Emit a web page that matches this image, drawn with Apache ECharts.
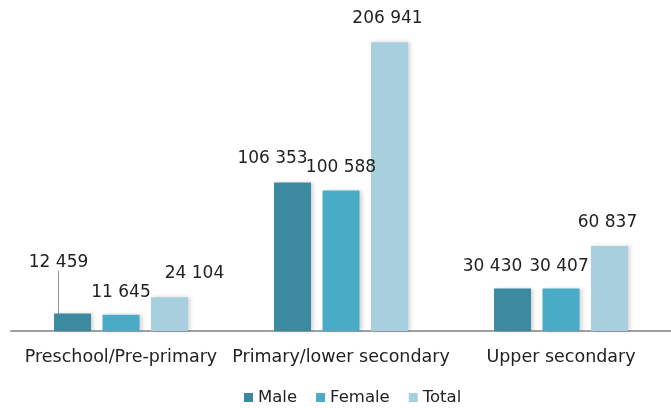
<!DOCTYPE html>
<html>
<head>
<meta charset="utf-8">
<script src="https://cdn.jsdelivr.net/npm/echarts@6/dist/echarts.min.js"></script>
<style>
  html, body { margin: 0; padding: 0; background: #fff; }
  #chart { width: 671px; height: 408px; }
</style>
</head>
<body>
<div id="chart"></div>
<script>
const categories = ['Preschool/Pre-primary', 'Primary/lower secondary', 'Upper secondary']
const male = [12459, 106353, 30430]
const female = [11645, 100588, 30407]
const total = [24104, 206941, 60837]

// label nudges [dx, dy] per category, as placed in the original
const maleShift = [[-14, -28], [-20, 0], [-20, 2]]
const femaleShift = [[0, 1], [0, 0], [-2, 2]]
const totalShift = [[25, 0], [-2, 0], [-2, 0]]

const fmt = v => String(v).replace(/\B(?=(\d{3})+(?!\d))/g, ' ')
const font = 'DejaVu Sans'

function makeSeries(name, values, color, shift, lineAt) {
  return {
    name: name,
    type: 'bar',
    data: values.map((v, i) => ({
      value: v,
      labelLine: { show: i === lineAt }
    })),
    barWidth: 37,
    barGap: '31%',
    itemStyle: {
      color: color,
      shadowColor: 'rgba(0,0,0,0.18)',
      shadowBlur: 4,
      shadowOffsetX: 2
    },
    label: {
      show: true,
      position: 'top',
      distance: 15,
      fontFamily: font,
      fontSize: 17,
      color: '#222',
      formatter: p => fmt(p.value)
    },
    labelLine: {
      show: false,
      lineStyle: { color: '#999', width: 1 }
    },
    labelLayout: p => ({ dx: shift[p.dataIndex][0], dy: shift[p.dataIndex][1] })
  }
}

const chart = echarts.init(document.getElementById('chart'))
chart.setOption({
  animation: false,
  grid: { left: 11, width: 670, top: 10, bottom: 77 },
  legend: {
    data: ['Male', 'Female', 'Total'],
    left: 239,
    top: 384,
    icon: 'rect',
    itemWidth: 9,
    itemHeight: 9,
    itemGap: 19,
    textStyle: { fontFamily: font, fontSize: 16.5, color: '#222' }
  },
  xAxis: {
    type: 'category',
    data: categories,
    axisTick: { show: false },
    axisLine: { lineStyle: { color: '#a0a0a0', width: 2 } },
    axisLabel: { interval: 0, fontFamily: font, fontSize: 17.5, color: '#222', margin: 17 }
  },
  yAxis: {
    type: 'value',
    min: 0,
    max: 230000,
    show: false,
    splitLine: { show: false }
  },
  series: [
    makeSeries('Male', male, '#3b8aa0', maleShift, 0),
    makeSeries('Female', female, '#4aabc6', femaleShift, -1),
    makeSeries('Total', total, '#a8cfdd', totalShift, -1)
  ]
})
</script>
</body>
</html>
